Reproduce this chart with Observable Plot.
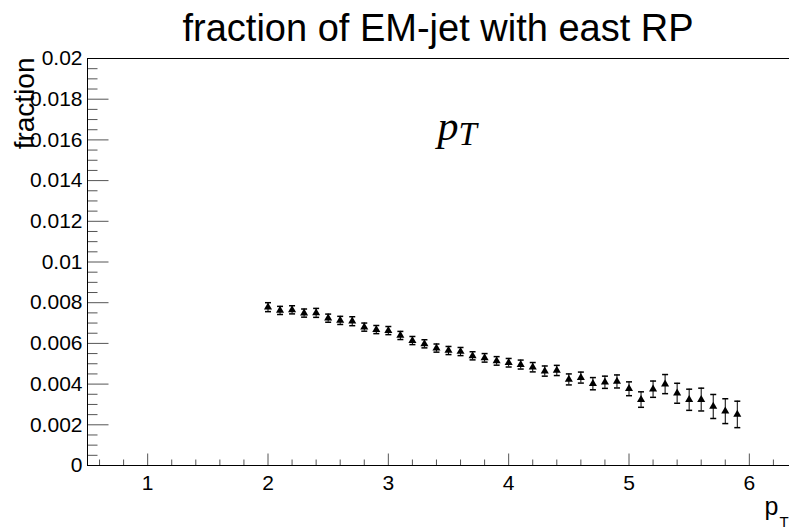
<!DOCTYPE html>
<html>
<head>
<meta charset="utf-8">
<script src="https://cdn.jsdelivr.net/npm/d3@7"></script>
<script src="https://cdn.jsdelivr.net/npm/@observablehq/plot@0.6"></script>
<style>
  html, body { margin: 0; padding: 0; background: white; overflow: hidden; }
  #chart svg { display: block; }
</style>
</head>
<body>
<div id="chart"></div>
<script>
// ---- data ----
const pt = [2.0, 2.1, 2.2, 2.3, 2.4, 2.5, 2.6, 2.7, 2.8, 2.9,
            3.0, 3.1, 3.2, 3.3, 3.4, 3.5, 3.6, 3.7, 3.8, 3.9,
            4.0, 4.1, 4.2, 4.3, 4.4, 4.5, 4.6, 4.7, 4.8, 4.9,
            5.0, 5.1, 5.2, 5.3, 5.4, 5.5, 5.6, 5.7, 5.8, 5.9];
const fraction = [0.00778, 0.00762, 0.00765, 0.00749, 0.00750, 0.00724, 0.00713, 0.00709, 0.00680, 0.00668,
                  0.00663, 0.00639, 0.00614, 0.00598, 0.00577, 0.00565, 0.00560, 0.00539, 0.00529, 0.00514,
                  0.00505, 0.00496, 0.00483, 0.00464, 0.00467, 0.00423, 0.00432, 0.00402, 0.00409, 0.00413,
                  0.00377, 0.00324, 0.00375, 0.00400, 0.00355, 0.00323, 0.00324, 0.00290, 0.00267, 0.00251];
const fractionErr = [0.00022, 0.00020, 0.00020, 0.00020, 0.00022, 0.00020, 0.00020, 0.00022, 0.00020, 0.00020,
                     0.00020, 0.00020, 0.00020, 0.00020, 0.00020, 0.00020, 0.00020, 0.00020, 0.00021, 0.00021,
                     0.00021, 0.00022, 0.00023, 0.00025, 0.00025, 0.00027, 0.00027, 0.00030, 0.00030, 0.00032,
                     0.00034, 0.00038, 0.00040, 0.00047, 0.00049, 0.00052, 0.00056, 0.00059, 0.00061, 0.00065];
const xTickLabels = [1, 2, 3, 4, 5, 6];
const yTickLabels = [0, 0.002, 0.004, 0.006, 0.008, 0.01, 0.012, 0.014, 0.016, 0.018, 0.02];
const titleText = "fraction of EM-jet with east RP";
const yTitle = "fraction";
const xTitleMain = "p";
const xTitleSub = "T";
const annotMain = "p";
const annotSub = "T";

// ---- build table ----
const rows = pt.map((x, i) => ({x, v: fraction[i], e: fractionErr[i]}));

// minor tick positions (axis decoration)
const xMinor = d3.range(3, 33).filter(i => i % 5 !== 0).map(i => i / 5);
const yMinor = d3.range(0, 41).filter(i => i % 4 !== 0).map(i => i * 0.0005);

const tickUp = len => ({draw(ctx) { ctx.moveTo(0, 0); ctx.lineTo(0, -len); }});
const tickRight = len => ({draw(ctx) { ctx.moveTo(0, 0); ctx.lineTo(len, 0); }});
const cap = {draw(ctx) { ctx.moveTo(-3, 0); ctx.lineTo(3, 0); }};

const tickColor = "#555";

const chart = Plot.plot({
  width: 789,
  height: 529,
  marginLeft: 87,
  marginTop: 58,
  marginBottom: 64,
  marginRight: -20,
  style: {fontFamily: "Liberation Sans, Arial, sans-serif", fontSize: "21px", background: "white", color: "black"},
  x: {domain: [0.5, 6.5], ticks: xTickLabels, tickSize: 0, tickPadding: 10, tickFormat: d => String(d), label: null},
  y: {domain: [0, 0.02], ticks: yTickLabels, tickSize: 0, tickPadding: 5, tickFormat: d => String(d), label: null},
  marks: [
    // axis ticks (ROOT style, inside frame)
    Plot.dot(xTickLabels, {x: d => d, y: 0, symbol: tickUp(12), stroke: tickColor, fill: "none", strokeWidth: 1}),
    Plot.dot(xMinor, {x: d => d, y: 0, symbol: tickUp(6), stroke: tickColor, fill: "none", strokeWidth: 1}),
    Plot.dot(yTickLabels, {x: 0.5, y: d => d, symbol: tickRight(21), stroke: tickColor, fill: "none", strokeWidth: 1}),
    Plot.dot(yMinor, {x: 0.5, y: d => d, symbol: tickRight(10), stroke: tickColor, fill: "none", strokeWidth: 1}),
    Plot.frame({stroke: "black", strokeWidth: 1}),
    // error bars
    Plot.ruleX(rows, {x: "x", y1: d => d.v - d.e, y2: d => d.v + d.e, stroke: "black", strokeWidth: 1}),
    Plot.dot(rows, {x: "x", y: d => d.v + d.e, symbol: cap, stroke: "black", fill: "none"}),
    Plot.dot(rows, {x: "x", y: d => d.v - d.e, symbol: cap, stroke: "black", fill: "none"}),
    // markers
    Plot.dot(rows, {x: "x", y: "v", symbol: "triangle", r: 3, fill: "black", stroke: "none"}),
    // title
    Plot.text([titleText], {frameAnchor: "top-left", text: d => d, dx: 95, dy: -18,
      textAnchor: "start", lineAnchor: "bottom", fontSize: 38, fill: "black"}),
    // y title
    Plot.text([yTitle], {frameAnchor: "top-left", text: d => d, rotate: -90, dx: -54, dy: -1,
      textAnchor: "end", lineAnchor: "bottom", fontSize: 28, fill: "black"}),
    // x title p_T at the right end of the axis
    Plot.text([xTitleMain], {frameAnchor: "bottom-left", text: d => d, dx: 677, dy: 49,
      textAnchor: "start", lineAnchor: "bottom", fontSize: 25, fill: "black"}),
    Plot.text([xTitleSub], {frameAnchor: "bottom-left", text: d => d, dx: 692, dy: 61,
      textAnchor: "start", lineAnchor: "bottom", fontSize: 15, fill: "black"}),
    // annotation p_T
    Plot.text([annotMain], {frameAnchor: "top-left", text: d => d, dx: 350, dy: 81,
      textAnchor: "start", lineAnchor: "bottom", fontSize: 42, fontStyle: "italic",
      fontFamily: "Liberation Serif, serif", fill: "black"}),
    Plot.text([annotSub], {frameAnchor: "top-left", text: d => d, dx: 371, dy: 86,
      textAnchor: "start", lineAnchor: "bottom", fontSize: 33, fontStyle: "italic",
      fontFamily: "Liberation Serif, serif", fill: "black"})
  ]
});
document.getElementById("chart").appendChild(chart);
</script>
</body>
</html>
